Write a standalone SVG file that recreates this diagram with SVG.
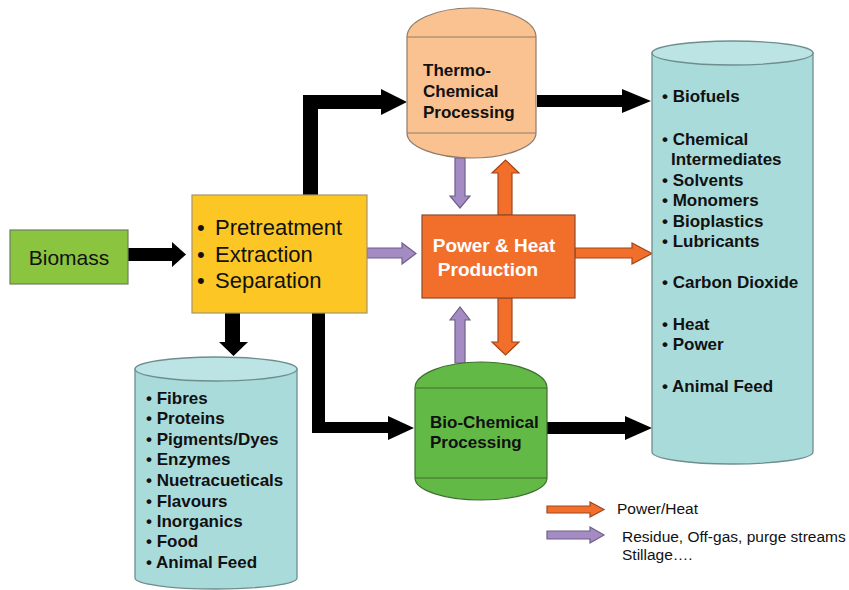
<svg xmlns="http://www.w3.org/2000/svg" width="849" height="590" viewBox="0 0 849 590">
  <style>
    .lbl { font-family: "Liberation Sans", Arial, sans-serif; fill: #111; }
    .b { font-weight: bold; font-size: 17px; }
    .flow { fill: #000; }
    .res { fill: #A48BC3; stroke: #6E6088; stroke-width: 1.2; }
    .pwr { fill: #F26E2B; stroke: #A0461C; stroke-width: 1.2; }
    .tank { fill: #A9DBDB; stroke: #6E8E8E; stroke-width: 1.3; }
    .tanktop { fill: #BCE4E5; stroke: #6E8E8E; stroke-width: 1.3; }
  </style>

  <rect width="849" height="590" fill="#fff"/>

  <!-- main black process flows -->
  <g id="connectors">
    <polygon class="flow" points="128,248 172,248 172,242 186,254.5 172,267 172,261 128,261"/>
    <polygon class="flow" points="303,195 303,95 381,95 381,89 407,102 381,115 381,109 318,109 318,195"/>
    <polygon class="flow" points="537,95 622,95 622,89 651,101 622,113 622,107 537,107"/>
    <polygon class="flow" points="312,313 312,433 388,433 388,440 414,428 388,416 388,422 325,422 325,313"/>
    <polygon class="flow" points="547,422 625,422 625,416 652,428 625,440 625,434 547,434"/>
    <polygon class="flow" points="225,313 240,313 240,342 248,342 233.5,356 219,342 225,342"/>

    <!-- residue streams -->
    <polygon class="res" points="367,248 402,248 402,243 416,253.5 402,264 402,258 367,258"/>
    <polygon class="res" points="455,158 465,158 465,196 470,196 460,208 450,196 455,196"/>
    <polygon class="res" points="455,363 465,363 465,320 470,320 460,307 450,320 455,320"/>

    <!-- power / heat -->
    <polygon class="pwr" points="498,215 512,215 512,173 519,173 505.5,160 492,173 498,173"/>
    <polygon class="pwr" points="498,298 512,298 512,342 519,342 505.5,355 492,342 498,342"/>
    <polygon class="pwr" points="575,248 632,248 632,243 652,253.5 632,264 632,258 575,258"/>
  </g>

  <g id="biomass">
    <rect x="10" y="230" width="118" height="54" fill="#8BC43F" stroke="#6F7F5F" stroke-width="1.2"/>
    <text class="lbl" x="69" y="265" font-size="21" text-anchor="middle">Biomass</text>
  </g>

  <g id="pretreatment">
    <rect x="192" y="195" width="175" height="118" fill="#FCC624" stroke="#A89468" stroke-width="1.2"/>
    <g class="lbl" font-size="22">
      <text x="197" y="235">•</text><text x="215" y="235">Pretreatment</text>
      <text x="197" y="262">•</text><text x="215" y="262">Extraction</text>
      <text x="197" y="288">•</text><text x="215" y="288">Separation</text>
    </g>
  </g>

  <g id="thermo">
    <path d="M407,37 A64.5,29 0 0 1 536,37 L536,133 A64.5,25 0 0 1 407,133 Z" fill="#FAC191" stroke="#8E7C6A" stroke-width="1.2"/>
    <line x1="407" y1="37" x2="536" y2="37" stroke="#8E7C6A" stroke-width="1.2"/>
    <line x1="407" y1="133" x2="536" y2="133" stroke="#8E7C6A" stroke-width="1.2"/>
    <g class="lbl b">
      <text x="423" y="76">Thermo-</text>
      <text x="423" y="97">Chemical</text>
      <text x="423" y="118">Processing</text>
    </g>
  </g>

  <g id="power">
    <rect x="422" y="215" width="153" height="83" fill="#F26E2B" stroke="#8E4A2C" stroke-width="1.2"/>
    <g font-family="Liberation Sans, Arial, sans-serif" font-weight="bold" font-size="19" fill="#fff" text-anchor="middle">
      <text x="494" y="252">Power &amp; Heat</text>
      <text x="488" y="276">Production</text>
    </g>
  </g>

  <g id="biochem">
    <path d="M415,388 A66,26 0 0 1 547,388 L547,478 A66,22 0 0 1 415,478 Z" fill="#63B946" stroke="#3F6E30" stroke-width="1.2"/>
    <line x1="415" y1="388" x2="547" y2="388" stroke="#3F6E30" stroke-width="1.2"/>
    <line x1="415" y1="478" x2="547" y2="478" stroke="#3F6E30" stroke-width="1.2"/>
    <g class="lbl b">
      <text x="430" y="428">Bio-Chemical</text>
      <text x="430" y="448">Processing</text>
    </g>
  </g>

  <g id="coproducts">
    <path class="tank" d="M135,369 L135,578 A81,11 0 0 0 297,578 L297,369 Z"/>
    <ellipse class="tanktop" cx="216" cy="369" rx="81" ry="12"/>
    <g class="lbl b">
      <text x="146" y="404">• Fibres</text>
      <text x="146" y="424">• Proteins</text>
      <text x="146" y="445">• Pigments/Dyes</text>
      <text x="146" y="465">• Enzymes</text>
      <text x="146" y="486">• Nuetracueticals</text>
      <text x="146" y="507">• Flavours</text>
      <text x="146" y="527">• Inorganics</text>
      <text x="146" y="547">• Food</text>
      <text x="146" y="568">• Animal Feed</text>
    </g>
  </g>

  <g id="products">
    <path class="tank" d="M652,53 L652,452 A80.5,12 0 0 0 813,452 L813,53 Z"/>
    <ellipse class="tanktop" cx="732.5" cy="53" rx="80.5" ry="12"/>
    <g class="lbl b">
      <text x="662" y="102">• Biofuels</text>
      <text x="662" y="145">• Chemical</text>
      <text x="671" y="165">Intermediates</text>
      <text x="662" y="186">• Solvents</text>
      <text x="662" y="206">• Monomers</text>
      <text x="662" y="227">• Bioplastics</text>
      <text x="662" y="247">• Lubricants</text>
      <text x="662" y="288">• Carbon Dioxide</text>
      <text x="662" y="330">• Heat</text>
      <text x="662" y="350">• Power</text>
      <text x="662" y="392">• Animal Feed</text>
    </g>
  </g>

  <g id="legend">
    <polygon class="pwr" points="547,506 590,506 590,502 604,509.5 590,517 590,513 547,513"/>
    <polygon class="res" points="547,531 590,531 590,527 604,535 590,543 590,539 547,539"/>
    <g class="lbl" font-size="15.5">
      <text x="617" y="514">Power/Heat</text>
      <text x="622" y="542">Residue, Off-gas, purge streams</text>
      <text x="622" y="560">Stillage….</text>
    </g>
  </g>
</svg>
